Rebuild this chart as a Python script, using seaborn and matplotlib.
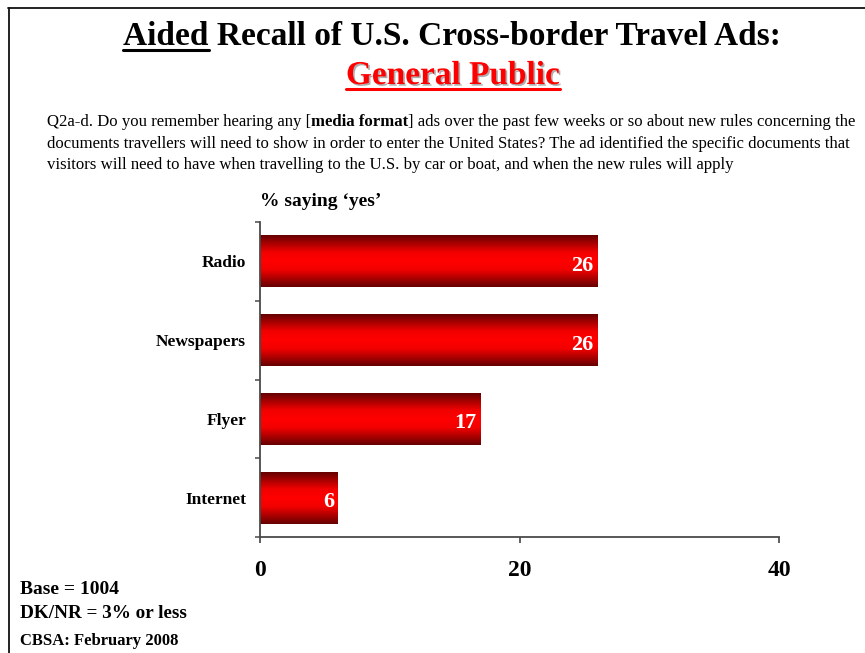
import matplotlib
matplotlib.use("Agg")
import matplotlib.pyplot as plt
import matplotlib.patheffects as pe
from matplotlib.colors import LinearSegmentedColormap
from matplotlib.lines import Line2D
import numpy as np
import pandas as pd
import seaborn as sns

# Survey results: % saying 'yes'
categories = ["Radio", "Newspapers", "Flyer", "Internet"]
values = [26, 26, 17, 6]
x_ticks = [0, 20, 40]

title_main = "Aided Recall of U.S. Cross-border Travel Ads:"
title_underlined = "Aided"
subtitle = "General Public"
question_lines = [
    [("Q2a-d. Do you remember hearing any [", "normal"), ("media format", "bold"),
     ("] ads over the past few weeks or so about new rules concerning the", "normal")],
    [("documents travellers will need to show in order to enter the United States? "
      "The ad identified the specific documents that", "normal")],
    [("visitors will need to have when travelling to the U.S. by car or boat, "
      "and when the new rules will apply", "normal")],
]
axis_caption = "% saying \u2018yes\u2019"
base_note = "Base = 1004"
dk_note = "DK/NR = 3% or less"
source_note = "CBSA: February 2008"

sns.set_style("white")
plt.rcParams["font.family"] = ["Liberation Serif", "DejaVu Serif"]
plt.rcParams["text.color"] = "black"
plt.rcParams["xtick.color"] = "black"
plt.rcParams["ytick.color"] = "black"

W, H = 865, 653
fig = plt.figure(figsize=(W / 100, H / 100), dpi=100)


def fx(px):
    return px / W


def fy(py):
    return 1 - py / H


ax = fig.add_axes([fx(260), fy(537), fx(779) - fx(260), fy(222) - fy(537)])

df = pd.DataFrame({"media": categories, "pct": values})
sns.barplot(data=df, x="pct", y="media", orient="h", width=0.66,
            color="#ff0000", edgecolor="none", linewidth=0, ax=ax)

# Cylinder-like shading on each bar
shade = LinearSegmentedColormap.from_list(
    "bar_shade",
    [(0.0, "#640000"), (0.33, "#f20000"), (0.5, "#ff0000"),
     (0.67, "#f20000"), (1.0, "#640000")])
grad = np.linspace(0, 1, 256).reshape(-1, 1)
for patch in list(ax.patches):
    bb = patch.get_bbox()
    img = ax.imshow(grad, cmap=shade, aspect="auto", interpolation="bicubic",
                    extent=[bb.x0, bb.x1, bb.y1, bb.y0], zorder=patch.get_zorder() + 0.1)
    img.set_clip_path(patch)

ax.set_xlim(0, 40)
ax.set_ylim(len(categories) - 0.5, -0.5)
ax.set_xlabel("")
ax.set_ylabel("")

# Value labels inside the bar ends
for i, v in enumerate(values):
    ax.annotate(str(v), xy=(v, i), xytext=(-2.7, -1.5), textcoords="offset points",
                ha="right", va="center_baseline", color="white", fontsize=16,
                fontweight="bold", zorder=5)

# Axes styling
for side in ("top", "right"):
    ax.spines[side].set_visible(False)
for side in ("left", "bottom"):
    ax.spines[side].set_color("#4a4a4a")
    ax.spines[side].set_linewidth(1.3)

ax.set_xticks(x_ticks)
ax.set_xticklabels([str(t) for t in x_ticks], fontsize=17, fontweight="bold")
ax.tick_params(axis="x", bottom=True, direction="out", length=4.5, width=1.1,
               color="#333333", pad=12)

ax.set_yticks(np.arange(-0.5, len(categories), 1.0))
ax.set_yticklabels([])
ax.tick_params(axis="y", which="major", left=True, direction="out", length=3.5,
               width=1.1, color="#4a4a4a")
ax.set_yticks(np.arange(len(categories)), minor=True)
ax.set_yticklabels(categories, minor=True, fontsize=12.5, fontweight="bold")
ax.tick_params(axis="y", which="minor", left=True, length=0, pad=10)
ax.grid(False)

# Frame lines along top and left
fig.add_artist(Line2D([fx(8), 1], [fy(8), fy(8)], color="#111111", lw=1.3,
                      transform=fig.transFigure))
fig.add_artist(Line2D([fx(9), fx(9)], [fy(8), 0], color="#111111", lw=1.3,
                      transform=fig.transFigure))

# Titles
shadow = [pe.withSimplePatchShadow(offset=(1.2, -1.2), shadow_rgbFace="#9a9a9a", alpha=0.8)]
t1 = fig.text(fx(452), fy(45), title_main, ha="center", va="baseline",
              fontsize=24, fontweight="bold", color="black")
t2 = fig.text(fx(453), fy(84), subtitle, ha="center", va="baseline",
              fontsize=24, fontweight="bold", color="#ff0000", path_effects=shadow)

fig.canvas.draw()
renderer = fig.canvas.get_renderer()


def text_width(s, **kw):
    tmp = fig.text(0, 0, s, **kw)
    w = tmp.get_window_extent(renderer).width
    tmp.remove()
    return w


b1 = t1.get_window_extent(renderer)
w_aided = text_width(title_underlined, fontsize=24, fontweight="bold")
fig.add_artist(Line2D([b1.x0 / W, (b1.x0 + w_aided) / W], [fy(50), fy(50)],
                      color="black", lw=2.2, transform=fig.transFigure))
b2 = t2.get_window_extent(renderer)
fig.add_artist(Line2D([b2.x0 / W, b2.x1 / W], [fy(89), fy(89)],
                      color="#ff0000", lw=2.2, transform=fig.transFigure,
                      path_effects=shadow))

# Question text, with the bold phrase set inline
baselines = [126, 147.5, 169]
for line, base in zip(question_lines, baselines):
    x = 47.0
    for piece, weight in line:
        t = fig.text(fx(x), fy(base), piece, ha="left", va="baseline",
                     fontsize=12.1, fontweight=weight, color="black")
        x += t.get_window_extent(renderer).width

fig.text(fx(260), fy(206), axis_caption, ha="left", va="baseline",
         fontsize=14, fontweight="bold")

fig.text(fx(20), fy(594), base_note, ha="left", va="baseline", fontsize=14, fontweight="bold")
fig.text(fx(20), fy(618), dk_note, ha="left", va="baseline", fontsize=13.8, fontweight="bold")
fig.text(fx(20), fy(645), source_note, ha="left", va="baseline", fontsize=12, fontweight="bold")

fig.savefig("out.png", dpi=100)
